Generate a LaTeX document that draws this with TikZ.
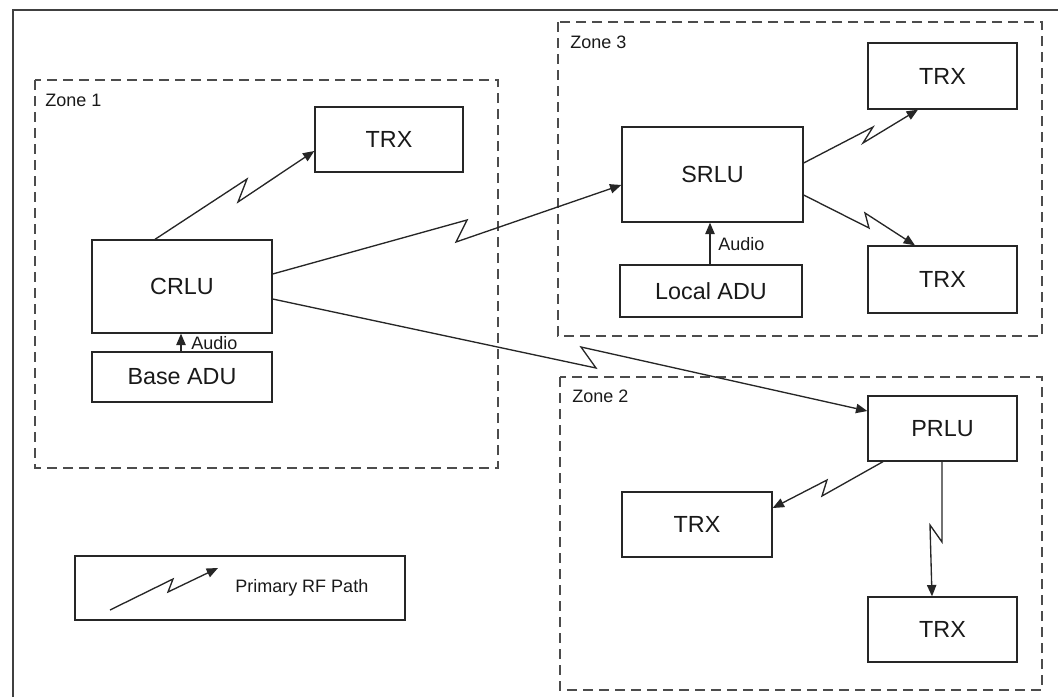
\documentclass[tikz,border=0pt]{standalone}
\usepackage{fontspec}
\setmainfont{Liberation Sans}
\usetikzlibrary{arrows.meta,calc}
\begin{document}
\begin{tikzpicture}[x=0.75pt,y=-0.75pt,
  box/.style={draw=black!85, line width=1pt, inner sep=0pt, font=\fontsize{17.5}{20}\selectfont, text=black!90},
  zone/.style={draw=black!70, line width=1pt, dash pattern=on 7.5pt off 4.5pt},
  zlabel/.style={anchor=base west, inner sep=0pt, font=\fontsize{13.5}{15}\selectfont, text=black!90},
  rf/.style={draw=black!85, line width=1pt, -{Triangle[length=8.5pt,width=7pt]}, line join=miter},
  frame/.style={draw=black!75, line width=1.1pt}
]
\useasboundingbox (0,0) rectangle (1058,697);
% outer frame
\draw[frame] (13,697) -- (13,10) -- (1058,10);
% zones
\draw[zone] (35,80) rectangle (498,468);
\draw[zone] (558,22) rectangle (1042,336);
\draw[zone] (560,377) rectangle (1042,690);
\node[zlabel] (z1) at (45,106) {Zone 1};
\node[zlabel] (z3) at (570,48) {Zone 3};
\node[zlabel] (z2) at (572,402) {Zone 2};
% boxes
\node[box, minimum width=111pt, minimum height=48.75pt] (trx1) at (389,139.5) {TRX};
\node[box, minimum width=135pt, minimum height=69.75pt] (crlu) at (182,286.5) {CRLU};
\node[box, minimum width=135pt, minimum height=37.5pt] (baseadu) at (182,377) {Base ADU};
\node[box, minimum width=135.75pt, minimum height=71.25pt] (srlu) at (712.5,174.5) {SRLU};
\node[box, minimum width=136.5pt, minimum height=39pt] (localadu) at (711,291) {Local ADU};
\node[box, minimum width=111.75pt, minimum height=49.5pt] (trx3a) at (942.5,76) {TRX};
\node[box, minimum width=111.75pt, minimum height=50.25pt] (trx3b) at (942.5,279.5) {TRX};
\node[box, minimum width=111.75pt, minimum height=48.75pt] (prlu) at (942.5,428.5) {PRLU};
\node[box, minimum width=112.5pt, minimum height=48.75pt] (trx2a) at (697,524.5) {TRX};
\node[box, minimum width=111.75pt, minimum height=48.75pt] (trx2b) at (942.5,629.5) {TRX};
\node[box, minimum width=247.5pt, minimum height=48pt] (legend) at (240,588) {};
% audio arrows
\draw[rf] ([shift={(-1,0)}]baseadu.north) -- ([shift={(-1,0)}]crlu.south);
\node[zlabel, anchor=west] (au1) at (191,343) {Audio};
\draw[rf] ([shift={(-1,0)}]localadu.north) -- ([shift={(-2.5,0)}]srlu.south);
\node[zlabel, anchor=west] (au2) at (718,244) {Audio};
% RF paths
\draw[rf] ([shift={(-27,0)}]crlu.north) -- (247,179) -- (238,202) -- ([shift={(0,11.5)}]trx1.west);
\draw[rf] ([shift={(0,-12.5)}]crlu.east) -- (467,220) -- (456,242) -- ([shift={(0,10.5)}]srlu.west);
\draw[rf] ([shift={(0,12.5)}]crlu.east) -- (596,368) -- (581,347) -- ([shift={(0,-17.5)}]prlu.west);
\draw[rf] ([shift={(0,-11.5)}]srlu.east) -- (873,127) -- (863,143) -- ([shift={(-24.5,0)}]trx3a.south);
\draw[rf] ([shift={(0,20.5)}]srlu.east) -- (869,228) -- (865,213) -- ([shift={(-27.5,0)}]trx3b.north);
\draw[rf] ([shift={(-59.5,0)}]prlu.south) -- (822,496) -- (827,480) -- ([shift={(0,-16.5)}]trx2a.east);
\draw[rf] ([shift={(-0.5,0)}]prlu.south) -- (942,542) -- (930,525) -- ([shift={(-10.5,0)}]trx2b.north);
% legend
\coordinate (lgA) at (110,610);
\coordinate (lgB) at (218,568);
\draw[rf] (lgA) -- (173,579) -- (168,592) -- (lgB);
\node[zlabel] (lgt) at (235,592) {Primary RF Path};
\end{tikzpicture}
\end{document}
